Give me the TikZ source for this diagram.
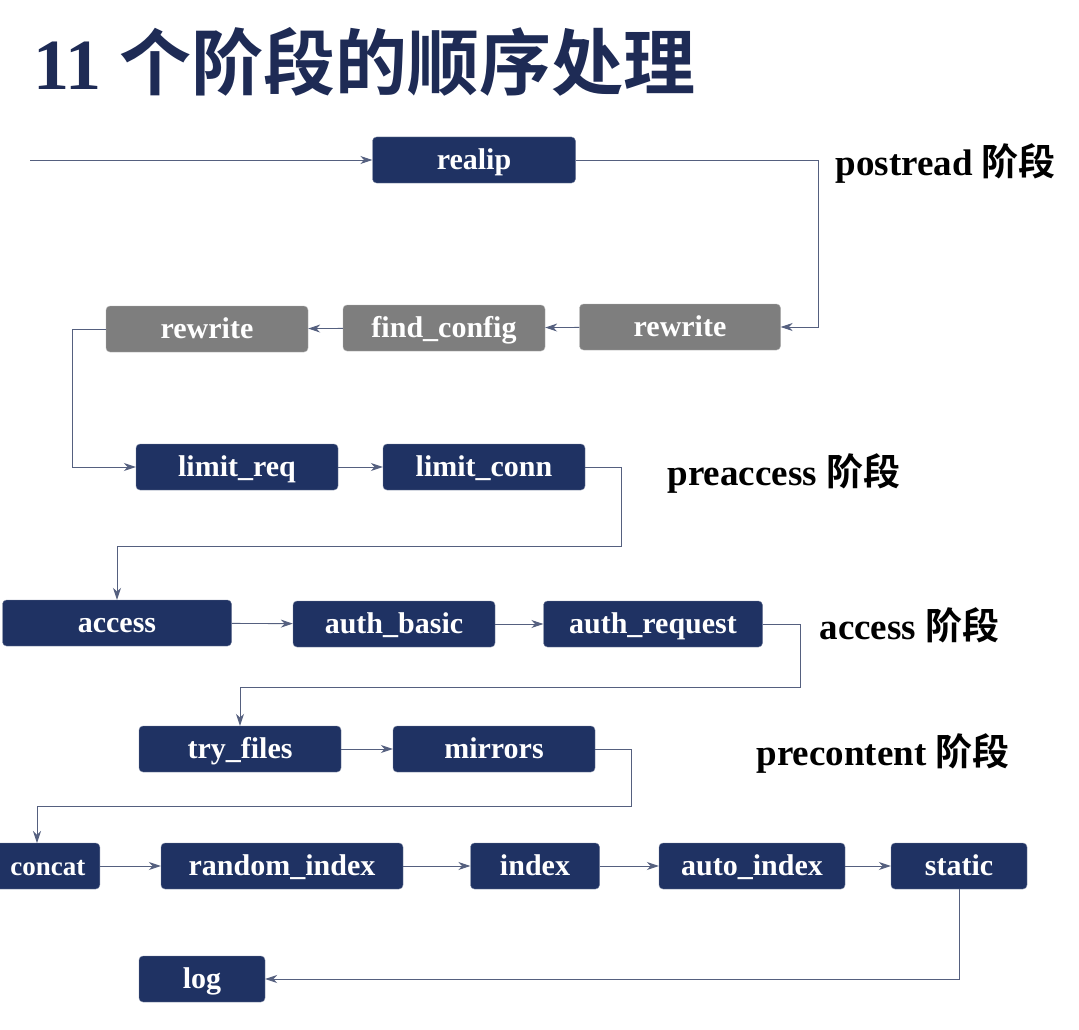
\documentclass[tikz,border=0pt]{standalone}
\usepackage{fontspec}
\setmainfont{Liberation Serif}
\newfontfamily\cjk{Noto Sans CJK SC}[BoldFont={Noto Sans CJK SC Bold}]
\usetikzlibrary{arrows.meta}
\definecolor{navy}{HTML}{1F3263}
\definecolor{gbox}{HTML}{7E7E7E}
\definecolor{ttl}{HTML}{1E2B55}
\definecolor{ln}{HTML}{55607F}
\begin{document}
\begin{tikzpicture}[x=1pt,y=-1pt,
 bx/.style={draw=navy!60!white,fill=navy,rounded corners=4pt,minimum height=46pt,text=white,font=\fontsize{30}{32}\selectfont\bfseries,inner sep=0pt,text height=22pt,text depth=4pt},
 gb/.style={bx,fill=gbox,draw=gray!60!white},
 ar/.style={draw=ln,line width=0.9pt,-{Stealth[length=12pt,width=8pt]}},
 lab/.style={anchor=west,font=\fontsize{37}{39}\selectfont\bfseries,text=black}]
\useasboundingbox (0,0) rectangle (1079,1030);
\fill[white] (0,0) rectangle (1079,1030);
\node[anchor=west,text=ttl,font=\fontsize{72}{74}\selectfont\bfseries] (title) at (30,62) {11 {\cjk 个阶段的顺序处理}};
\node[bx,minimum width=203pt] (realip) at (474,160) {realip};
\node[gb,minimum width=201pt] (rw1) at (680,327) {rewrite};
\node[gb,minimum width=202pt] (fc) at (444,328) {find\_config};
\node[gb,minimum width=202pt] (rw2) at (207,329) {rewrite};
\node[bx,minimum width=202pt] (lr) at (237,467) {limit\_req};
\node[bx,minimum width=202pt] (lc) at (484,467) {limit\_conn};
\node[bx,minimum width=229pt] (acc) at (117,623) {access};
\node[bx,minimum width=202pt] (ab) at (394,624) {auth\_basic};
\node[bx,minimum width=219pt] (areq) at (653,624) {auth\_request};
\node[bx,minimum width=104pt,anchor=east] (cc) at (100,866) {\fontsize{27}{29}\selectfont concat};
\node[bx,minimum width=242pt] (ri) at (282,866) {random\_index};
\node[bx,minimum width=129pt] (idx) at (535,866) {index};
\node[bx,minimum width=186pt] (ai) at (752,866) {auto\_index};
\node[bx,minimum width=136pt] (st) at (959,866) {static};
\node[bx,minimum width=126pt] (log) at (202,979) {log};
\node[bx,minimum width=202pt] (tf) at (240,749) {try\_files};
\node[bx,minimum width=202pt] (mir) at (494,749) {mirrors};
\node[lab] (l1) at (832,163) {postread {\cjk\bfseries 阶段}};
\node[lab] (l2) at (664,473) {preaccess {\cjk\bfseries 阶段}};
\node[lab] (l3) at (816,625) {access {\cjk\bfseries 阶段}};
\node[lab] (l4) at (753,753) {precontent {\cjk\bfseries 阶段}};
\coordinate (s) at (30,160);
\draw[ar] (s) -- (realip);
\draw[ar] (realip.east) -- (818,160) -- (818,327) -- (rw1.east);
\draw[ar] (rw1) -- (fc);
\draw[ar] (fc) -- (rw2);
\draw[ar] (rw2.west) -- (72,329) -- (72,467) -- (lr.west);
\draw[ar] (lr) -- (lc);
\draw[ar] (lc.east) -- (621,467) -- (621,546) -- (117,546) -- (acc.north);
\draw[ar] (acc) -- (ab);
\draw[ar] (ab) -- (areq);
\draw[ar] (areq.east) -- (800,624) -- (800,687) -- (240,687) -- (tf.north);
\draw[ar] (tf) -- (mir);
\draw[ar] (mir.east) -- (631,749) -- (631,806) -- (37,806) -- (37,843);
\draw[ar] (cc) -- (ri);
\draw[ar] (ri) -- (idx);
\draw[ar] (idx) -- (ai);
\draw[ar] (ai) -- (st);
\draw[ar] (st.south) -- (959,979) -- (log.east);
\end{tikzpicture}
\end{document}
